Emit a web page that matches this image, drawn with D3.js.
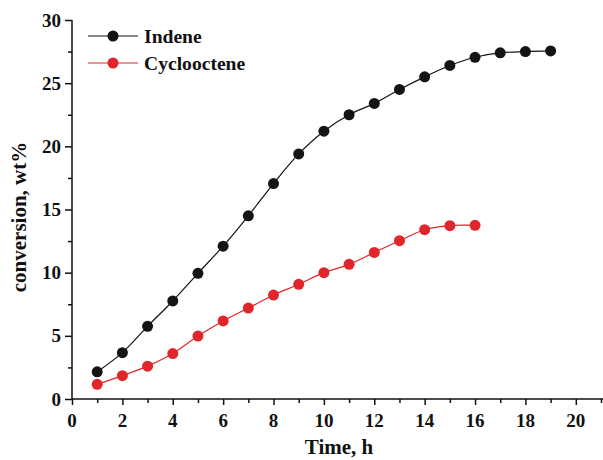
<!DOCTYPE html>
<html><head><meta charset="utf-8">
<script src="https://cdn.jsdelivr.net/npm/d3@7"></script>
<style>body{margin:0;background:#fff}svg{display:block}</style>
</head><body>
<svg id="c" width="603" height="460"></svg>
<script>
const time = [1,2,3,4,5,6,7,8,9,10,11,12,13,14,15,16,17,18,19];
const indene = [2.15,3.67,5.75,7.76,9.95,12.1,14.5,17.05,19.4,21.2,22.5,23.4,24.5,25.5,26.4,27.05,27.4,27.5,27.55];
const cycloTime = [1,2,3,4,5,6,7,8,9,10,11,12,13,14,15,16];
const cyclooctene = [1.16,1.85,2.6,3.6,4.98,6.18,7.2,8.23,9.08,10.0,10.66,11.6,12.53,13.4,13.72,13.75];
const xTicks = [0,2,4,6,8,10,12,14,16,18,20];
const yTicks = [0,5,10,15,20,25,30];
const seriesNames = ["Indene","Cyclooctene"];
const seriesColors = ["#141414","#e0262a"];

const svg = d3.select("#c");
const x = d3.scaleLinear().domain([0,21]).range([72,601]);
const y = d3.scaleLinear().domain([0,30]).range([399,20]);
const font = "'Liberation Serif','Times New Roman',serif";

// axes
const gx = svg.append("g").attr("transform","translate(0,399)");
gx.call(d3.axisBottom(x).tickValues(d3.range(0,22,1)).tickSize(4).tickFormat(""));
gx.call(g=>g.selectAll(".tick line").attr("y2",d=>d%2===0?6:4));
gx.select(".domain").attr("d","M72,0H603");
const gy = svg.append("g").attr("transform","translate(72,0)");
gy.call(d3.axisLeft(y).tickValues(d3.range(0,31,2.5)).tickSize(4).tickFormat(""));
gy.call(g=>g.selectAll(".tick line").attr("x2",d=>d%5===0?-7:-4));
gy.select(".domain").attr("d","M0,399V20");
svg.selectAll(".domain,.tick line").attr("stroke","#111").attr("stroke-width",1.5);

svg.append("g").selectAll("text").data(xTicks).join("text")
  .attr("x",d=>x(d)).attr("y",427).attr("text-anchor","middle")
  .attr("font-family",font).attr("font-weight","bold").attr("font-size",19).attr("fill","#111")
  .text(d=>d);
svg.append("g").selectAll("text").data(yTicks).join("text")
  .attr("x",61).attr("y",d=>y(d)+6.5).attr("text-anchor","end")
  .attr("font-family",font).attr("font-weight","bold").attr("font-size",19).attr("fill","#111")
  .text(d=>d);

svg.append("text").attr("x",339).attr("y",454).attr("text-anchor","middle")
  .attr("font-family",font).attr("font-weight","bold").attr("font-size",21).attr("fill","#111")
  .text("Time, h");
svg.append("text").attr("transform","translate(26,217) rotate(-90)").attr("text-anchor","middle")
  .attr("font-family",font).attr("font-weight","bold").attr("font-size",21).attr("fill","#111")
  .text("conversion, wt%");

const line = d3.line().x(d=>x(d[0])).y(d=>y(d[1])).curve(d3.curveCatmullRom);
const data = [d3.zip(time,indene), d3.zip(cycloTime,cyclooctene)];
data.forEach((pts,i)=>{
  svg.append("path").datum(pts).attr("d",line).attr("fill","none")
    .attr("stroke",seriesColors[i]).attr("stroke-width",1.2);
  svg.append("g").selectAll("circle").data(pts).join("circle")
    .attr("cx",d=>x(d[0])).attr("cy",d=>y(d[1])).attr("r",5.5).attr("fill",seriesColors[i]);
});

// legend
seriesNames.forEach((n,i)=>{
  const ly = 36 + i*27;
  svg.append("line").attr("x1",88).attr("x2",138).attr("y1",ly).attr("y2",ly)
    .attr("stroke",seriesColors[i]).attr("stroke-width",1.2);
  svg.append("circle").attr("cx",113).attr("cy",ly).attr("r",5.5).attr("fill",seriesColors[i]);
  svg.append("text").attr("x",144).attr("y",ly+6.5).attr("font-family",font).attr("font-weight","bold")
    .attr("font-size",19.6).attr("fill","#111").text(n);
});
</script>
</body></html>
